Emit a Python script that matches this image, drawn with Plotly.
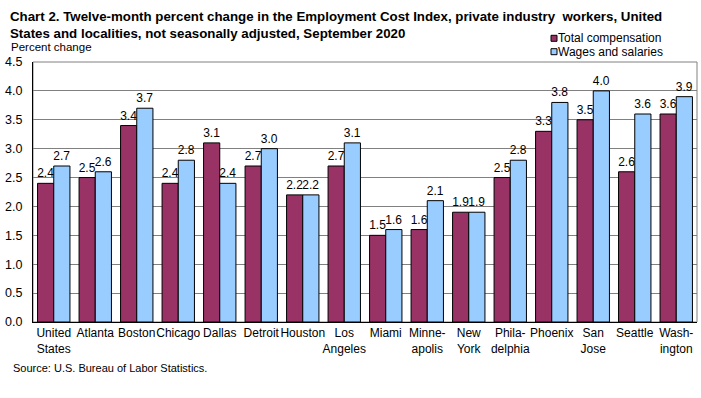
import plotly.graph_objects as go

categories = ["United<br>States", "Atlanta", "Boston", "Chicago", "Dallas", "Detroit", "Houston",
              "Los<br>Angeles", "Miami", "Minne-<br>apolis", "New<br>York", "Phila-<br>delphia",
              "Phoenix", "San<br>Jose", "Seattle", "Wash-<br>ington"]
total_comp = [2.4, 2.5, 3.4, 2.4, 3.1, 2.7, 2.2, 2.7, 1.5, 1.6, 1.9, 2.5, 3.3, 3.5, 2.6, 3.6]
wages = [2.7, 2.6, 3.7, 2.8, 2.4, 3.0, 2.2, 3.1, 1.6, 2.1, 1.9, 2.8, 3.8, 4.0, 3.6, 3.9]
y_ticks = [0.0, 0.5, 1.0, 1.5, 2.0, 2.5, 3.0, 3.5, 4.0, 4.5]
series_names = ["Total compensation", "Wages and salaries"]
series_colors = ["#993366", "#99CCFF"]

FONT = "Liberation Sans, Arial, sans-serif"
W, H = 701, 398
L, R, T, B = 33, 4, 62, 76
PW, PH = W - L - R, H - T - B


def px_x(x):
    return (x - L) / PW


def px_y(y):
    return (H - B - y) / PH


fig = go.Figure()
for name, vals, col in zip(series_names, [total_comp, wages], series_colors):
    fig.add_trace(go.Bar(
        x=categories, y=vals, name=name,
        marker=dict(color=col, line=dict(color="#000000", width=1)),
        text=[f"{v:.1f}" for v in vals], textposition="outside",
        constraintext="none",
        textfont=dict(family=FONT, size=12, color="#000000"), cliponaxis=False,
        showlegend=False, hoverinfo="x+y+name",
    ))

shapes = [dict(type="rect", xref="paper", yref="paper", x0=0, x1=1, y0=0, y1=1,
               line=dict(color="#808080", width=1), layer="below")]
annotations = [
    dict(text="<b>Chart 2. Twelve-month percent change in the Employment Cost Index, private industry  workers, United<br>States and localities, not seasonally adjusted, September 2020</b>",
         xref="paper", yref="paper", x=px_x(8), y=px_y(7), xanchor="left", yanchor="top",
         align="left", showarrow=False, font=dict(family=FONT, size=13.3)),
    dict(text="Percent change", xref="paper", yref="paper", x=px_x(9), y=px_y(47),
         xanchor="left", yanchor="middle", showarrow=False, font=dict(family=FONT, size=11.5)),
    dict(text="Source: U.S. Bureau of Labor Statistics.", xref="paper", yref="paper",
         x=px_x(11), y=px_y(368), xanchor="left", yanchor="middle", showarrow=False,
         font=dict(family=FONT, size=11)),
]
# legend
for i, (name, col) in enumerate(zip(series_names, series_colors)):
    cy = 38.3 + 13.4 * i
    shapes.append(dict(type="rect", xref="paper", yref="paper",
                       x0=px_x(551), x1=px_x(557), y0=px_y(cy + 3), y1=px_y(cy - 3),
                       fillcolor=col, line=dict(color="#000000", width=1)))
    annotations.append(dict(text=name, xref="paper", yref="paper", x=px_x(556), y=px_y(cy),
                            xanchor="left", yanchor="middle", showarrow=False,
                            font=dict(family=FONT, size=12)))

fig.update_layout(
    width=W, height=H,
    margin=dict(l=L, r=R, t=T, b=B, autoexpand=False),
    paper_bgcolor="white", plot_bgcolor="white",
    font=dict(family=FONT, size=12, color="#000000"),
    barmode="group", bargap=0.22, bargroupgap=0,
    showlegend=False,
    xaxis=dict(showline=True, linecolor="#000000", linewidth=1, ticks="", tickangle=0,
               automargin=False, tickfont=dict(family=FONT, size=12), showgrid=False),
    yaxis=dict(range=[0, 4.5], tickvals=y_ticks, ticktext=[f"{v:.1f}" for v in y_ticks],
               showline=True, linecolor="#000000", linewidth=1, ticks="", automargin=False,
               ticklabelstandoff=7,
               showgrid=True, gridcolor="#808080", gridwidth=1,
               tickfont=dict(family=FONT, size=12.5), zeroline=False),
    shapes=shapes,
    annotations=annotations,
)

fig.write_html("out.html", config={"displayModeBar": False},
               post_script="document.body.style.margin='0';")
